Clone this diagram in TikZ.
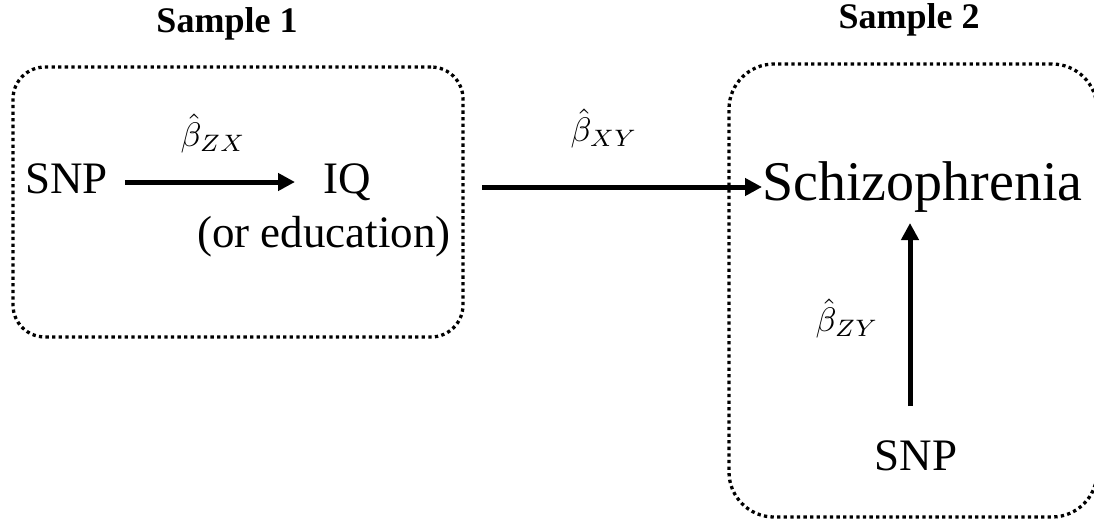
\documentclass[tikz,border=0pt]{standalone}
\usepackage{fontspec}
\setmainfont{Liberation Serif}
\usetikzlibrary{arrows.meta,calc}
\tikzset{
  samplebox/.style={draw, line width=3.3pt, dash pattern=on 3.3pt off 3.3pt, inner sep=0pt},
  title/.style={inner sep=0pt, font=\fontsize{36pt}{42pt}\selectfont\bfseries},
  lbl/.style={inner sep=0pt, font=\fontsize{45pt}{54pt}\selectfont},
  biglbl/.style={inner sep=0pt, font=\fontsize{56pt}{66pt}\selectfont},
  coef/.style={inner sep=0pt, font=\fontsize{10pt}{12pt}\selectfont, scale=3.4},
  arr/.style={line width=5pt, -{Triangle[length=17pt,width=17pt]}}
}
\begin{document}
\begin{tikzpicture}[x=1pt,y=-1pt]
\useasboundingbox (0,0) rectangle (1094,525);
% boxes
\node[samplebox, rounded corners=32pt, minimum width=450pt, minimum height=270pt] (box1) at (238,202) {};
\node[samplebox, rounded corners=45pt, minimum width=368pt, minimum height=453pt] (box2) at (913,290.5) {};
% titles
\node[title, anchor=base] (s1) at (227,32) {Sample 1};
\node[title, anchor=base] (s2) at (909,28) {Sample 2};
% texts
\node[lbl, anchor=base west] (snp1) at (25,193) {SNP};
\node[lbl, anchor=base west] (iq) at (323,193) {IQ};
\node[lbl, anchor=base west] (edu) at (197,247) {(or education)};
\node[biglbl, anchor=base west] (schizo) at (762,200) {Schizophrenia};
\node[lbl, anchor=base] (snp2) at (916,470) {SNP};
% coefficients
\node[coef, anchor=base west] (bzx) at (180,146) {$\hat{\beta}_{ZX}$};
\node[coef, anchor=base west] (bxy) at (570,141) {$\hat{\beta}_{XY}$};
\node[coef, anchor=base west] (bzy) at (815,331) {$\hat{\beta}_{ZY}$};
% arrows
\draw[arr] ([xshift=17pt,yshift=11pt]snp1.base east) -- ([xshift=-28pt,yshift=11pt]iq.base west);
\coordinate (xystart) at (482,187);
\draw[arr] (xystart) -- ([yshift=13pt]schizo.base west);
\coordinate (vx) at ([xshift=-6pt,yshift=34pt]snp2.north);
\draw[arr] (vx) -- ($(vx |- schizo.base)+(0,23)$);
\end{tikzpicture}
\end{document}
